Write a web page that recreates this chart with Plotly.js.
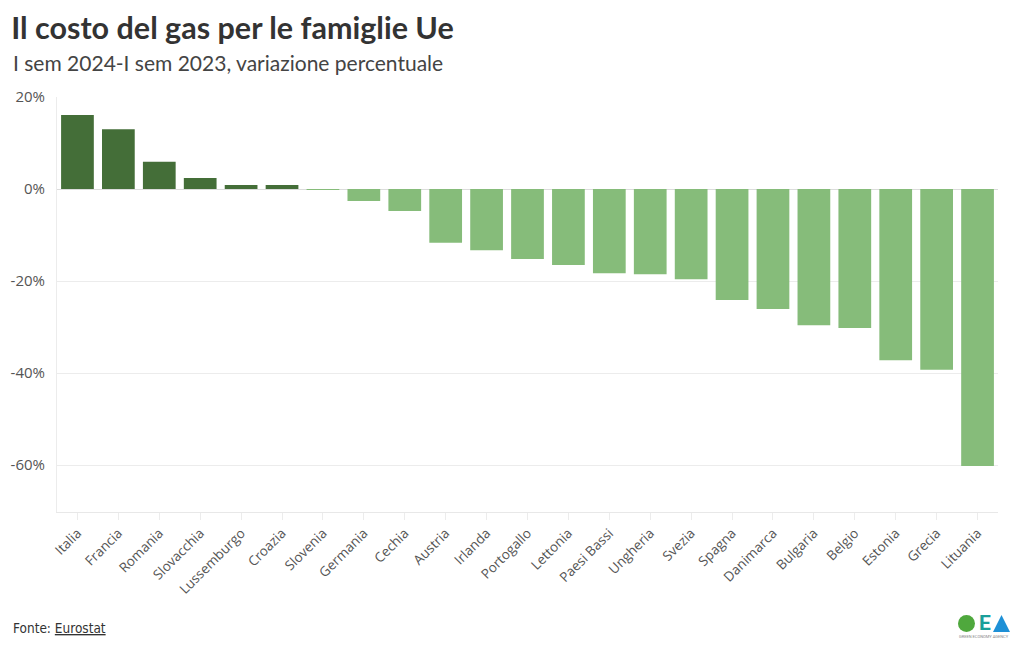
<!DOCTYPE html>
<html>
<head>
<meta charset="utf-8">
<script src="https://cdn.plot.ly/plotly-3.0.1.min.js"></script>
<style>
html,body{margin:0;padding:0;background:#fff;}
#chart{width:1020px;height:650px;}
</style>
</head>
<body>
<div id="chart"></div>
<script>
const paesi = ["Italia","Francia","Romania","Slovacchia","Lussemburgo","Croazia","Slovenia","Germania","Cechia","Austria","Irlanda","Portogallo","Lettonia","Paesi Bassi","Ungheria","Svezia","Spagna","Danimarca","Bulgaria","Belgio","Estonia","Grecia","Lituania"];
const variazione = [16.1, 13.0, 5.9, 2.4, 0.9, 0.9, -0.2, -2.6, -4.8, -11.7, -13.3, -15.2, -16.5, -18.3, -18.5, -19.6, -24.1, -26.1, -29.6, -30.2, -37.2, -39.3, -60.2];
const coloreAumento = "#446e38";
const coloreCalo = "#86bc7a";
const yTicks = [20, 0, -20, -40, -60];
const yTickLabels = ["20%", "0%", "-20%", "-40%", "-60%"];

const colori = variazione.map(v => v >= 0 ? coloreAumento : coloreCalo);

const trace = {
  type: "bar",
  x: paesi,
  y: variazione,
  marker: {color: colori},
  hovertemplate: "%{x}: %{y:.1f}%<extra></extra>"
};

const layout = {
  width: 1020, height: 650,
  margin: {l: 57, r: 22, t: 97, b: 138},
  paper_bgcolor: "#fff", plot_bgcolor: "#fff",
  bargap: 0.2,
  showlegend: false,
  font: {family: "Open Sans", color: "#444"},
  title: {
    text: "<b>Il costo del gas per le famiglie Ue</b>",
    x: 0.011, xanchor: "left", y: 0.957, yanchor: "middle",
    font: {family: "Lato", size: 30.5, color: "#333"}
  },
  xaxis: {
    type: "category",
    tickangle: -45,
    tickfont: {family: "Open Sans", size: 13.5, color: "#555"},
    showline: true, linecolor: "#e8e8e8", linewidth: 1,
    ticks: "outside", ticklen: 7, tickcolor: "#ececec",
    showgrid: false
  },
  yaxis: {
    range: [-70.2, 20],
    tickmode: "array",
    tickvals: yTicks,
    ticktext: yTickLabels,
    tickfont: {family: "Open Sans", size: 15, color: "#555"},
    gridcolor: "#ececec",
    zeroline: true, zerolinecolor: "#dcdcdc", zerolinewidth: 1,
    showline: true, linecolor: "#ececec", linewidth: 1,
    ticks: "", ticklabelstandoff: 8
  },
  annotations: [
    {text: "I sem 2024-I sem 2023, variazione percentuale", xref: "paper", yref: "paper",
     x: 0, xshift: -46, xanchor: "left", y: 1, yshift: 35, yanchor: "middle", showarrow: false, align: "left",
     font: {family: "Lato", size: 21, color: "#444"}},
    {text: "Fonte: <u>Eurostat</u>", xref: "paper", yref: "paper",
     x: 0, xshift: -46, xanchor: "left", y: 0, yshift: -116, yanchor: "middle", showarrow: false,
     font: {family: "DejaVu Sans Condensed", size: 13.5, color: "#333"}},
    {text: "<b>E</b>", xref: "paper", yref: "paper", x: 1, xshift: -13, y: 0, yshift: -111,
     xanchor: "center", yanchor: "middle", showarrow: false,
     font: {family: "Roboto", size: 21, color: "#1a9e9a"}},
    {text: "GREEN ECONOMY AGENCY", xref: "paper", yref: "paper", x: 1, xshift: -14, y: 0, yshift: -124,
     xanchor: "center", yanchor: "middle", showarrow: false,
     font: {family: "Roboto", size: 4, color: "#888"}}
  ],
  shapes: [
    {type: "circle", xref: "paper", yref: "paper", xsizemode: "pixel", ysizemode: "pixel",
     xanchor: 1, yanchor: 0, x0: -40, x1: -23, y0: -120, y1: -103,
     fillcolor: "#4fa83d", line: {width: 0}},
    {type: "path", xref: "paper", yref: "paper", xsizemode: "pixel", ysizemode: "pixel",
     xanchor: 1, yanchor: 0, path: "M -5,-120 L 3.5,-103 L 12,-120 Z",
     fillcolor: "#1e90d6", line: {width: 0}}
  ]
};

Plotly.newPlot("chart", [trace], layout, {displayModeBar: false, staticPlot: true});
</script>
</body>
</html>
